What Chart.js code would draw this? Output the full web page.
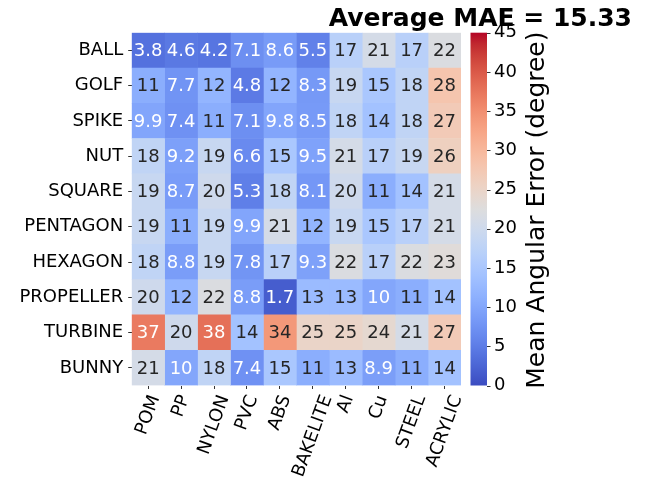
<!DOCTYPE html>
<html><head><meta charset="utf-8">
<script src="https://cdn.jsdelivr.net/npm/chart.js@4/dist/chart.umd.min.js"></script>
<style>html,body{margin:0;padding:0;background:#fff}</style>
</head><body>
<canvas id="c" width="650" height="487"></canvas>
<script>
// ---- data ----
const shapes = ['BALL','GOLF','SPIKE','NUT','SQUARE','PENTAGON','HEXAGON','PROPELLER','TURBINE','BUNNY'];
const materials = ['POM','PP','NYLON','PVC','ABS','BAKELITE','Al','Cu','STEEL','ACRYLIC'];
const ball      = [3.8, 4.6, 4.2, 7.1, 8.6, 5.5, 17, 21, 17, 22];
const golf      = [11, 7.7, 12, 4.8, 12, 8.3, 19, 15, 18, 28];
const spike     = [9.9, 7.4, 11, 7.1, 9.8, 8.5, 18, 14, 18, 27];
const nut       = [18, 9.2, 19, 6.6, 15, 9.5, 21, 17, 19, 26];
const square    = [19, 8.7, 20, 5.3, 18, 8.1, 20, 11, 14, 21];
const pentagon  = [19, 11, 19, 9.9, 21, 12, 19, 15, 17, 21];
const hexagon   = [18, 8.8, 19, 7.8, 17, 9.3, 22, 17, 22, 23];
const propeller = [20, 12, 22, 8.8, 1.7, 13, 13, 10, 11, 14];
const turbine   = [37, 20, 38, 14, 34, 25, 25, 24, 21, 27];
const bunny     = [21, 10, 18, 7.4, 15, 11, 13, 8.9, 11, 14];
const maeRows = [ball, golf, spike, nut, square, pentagon, hexagon, propeller, turbine, bunny];
const colorbarTicks = [0, 5, 10, 15, 20, 25, 30, 35, 40, 45];
const titleText = 'Average MAE = 15.33';
const colorbarLabel = 'Mean Angular Error (degree)';
const vmin = 0, vmax = 45;

// ---- coolwarm colormap ----
const COOLWARM = [[59,76,192],[68,90,204],[77,104,215],[87,117,225],[98,130,234],[108,142,241],[119,154,247],[130,165,251],[141,176,254],[152,185,255],[163,194,255],[174,201,253],[184,208,249],[194,213,244],[204,217,238],[213,219,230],[221,221,221],[229,216,209],[236,211,197],[241,204,185],[245,196,173],[247,187,160],[247,177,148],[247,166,135],[244,154,123],[241,141,111],[236,127,99],[229,112,88],[222,96,77],[213,80,66],[203,62,56],[192,40,47],[180,4,38]];
function cmap(v){
  let t = (v - vmin) / (vmax - vmin); t = Math.max(0, Math.min(1, t));
  const p = t * (COOLWARM.length - 1); const i = Math.min(Math.floor(p), COOLWARM.length - 2); const f = p - i;
  const a = COOLWARM[i], b = COOLWARM[i+1];
  return [0,1,2].map(k => a[k] + (b[k]-a[k]) * f);
}
const rgbStr = c => `rgb(${c.map(x=>Math.round(x)).join(',')})`;
function textColor(c){
  const lin = c.map(x => { x /= 255; return x <= 0.03928 ? x/12.92 : Math.pow((x+0.055)/1.055, 2.4); });
  const lum = 0.2126*lin[0] + 0.7152*lin[1] + 0.0722*lin[2];
  return lum > 0.408 ? '#262626' : '#ffffff';
}

const FONT = 'DejaVu Sans';
const datasets = materials.map((m, j) => ({
  label: m,
  data: shapes.map(() => [j, j + 1]),
  backgroundColor: shapes.map((s, i) => rgbStr(cmap(maeRows[i][j]))),
  borderWidth: 0,
  barPercentage: 1, categoryPercentage: 1, grouped: false
}));

const heatPlugin = {
  id: 'heat',
  afterDatasetsDraw(chart){
    const ctx = chart.ctx, xs = chart.scales.x, ys = chart.scales.y;
    ctx.save();
    ctx.font = `18px "${FONT}"`; ctx.textAlign = 'center'; ctx.textBaseline = 'middle';
    shapes.forEach((s, i) => materials.forEach((m, j) => {
      const v = maeRows[i][j];
      ctx.fillStyle = textColor(cmap(v));
      ctx.fillText(String(v), xs.getPixelForValue(j + 0.5), ys.getPixelForValue(i) + 1);
    }));
    ctx.restore();
  },
  afterDraw(chart){
    const ctx = chart.ctx, ca = chart.chartArea, xs = chart.scales.x, cb = chart.scales.y2;
    ctx.save();
    // colorbar
    const x0 = ca.right + 9.5, x1 = ca.right + 26;
    const yb = cb.getPixelForValue(vmin), yt = cb.getPixelForValue(vmax);
    const g = ctx.createLinearGradient(0, yb, 0, yt);
    COOLWARM.forEach((c, k) => g.addColorStop(k / (COOLWARM.length - 1), rgbStr(c)));
    ctx.fillStyle = g; ctx.fillRect(x0, yt, x1 - x0, yb - yt);
    ctx.strokeStyle = '#000'; ctx.lineWidth = 0.8;
    colorbarTicks.forEach(t => {
      const y = Math.round(cb.getPixelForValue(t)) + 0.5;
      ctx.beginPath(); ctx.moveTo(x1, y); ctx.lineTo(x1 + 3.5, y); ctx.stroke();
    });
    // colorbar label
    ctx.fillStyle = '#000'; ctx.font = `25px "${FONT}"`;
    ctx.textAlign = 'center'; ctx.textBaseline = 'middle';
    ctx.save(); ctx.translate(ca.right + 76, (yt + yb) / 2 + 1); ctx.rotate(-Math.PI / 2);
    ctx.fillText(colorbarLabel, 0, 0); ctx.restore();
    // x tick labels, rotated 70 deg, centered like matplotlib
    ctx.font = `18px "${FONT}"`;
    const th = 70 * Math.PI / 180, h = 18 * 1.16;
    materials.forEach((m, j) => {
      const x = xs.getPixelForValue(j + 0.5);
      const w = ctx.measureText(m).width;
      const H = w * Math.sin(th) + h * Math.cos(th);
      const y0 = ca.bottom + 7;
      ctx.save(); ctx.translate(x, y0 + H / 2); ctx.rotate(-th);
      ctx.fillText(m, 0, 0); ctx.restore();
    });
    ctx.restore();
  }
};

const tickGrid = { display: true, drawOnChartArea: false, drawTicks: true, tickLength: 3.5, color: '#000', lineWidth: 0.8, offset: false };
const noPad = s => { s.paddingTop = 0; s.paddingBottom = 0; };

new Chart(document.getElementById('c'), {
  type: 'bar',
  data: { labels: shapes, datasets },
  options: {
    indexAxis: 'y', responsive: false, animation: false,
    layout: { padding: { left: 0, right: 18, top: 0, bottom: 0 } },
    plugins: {
      legend: { display: false }, tooltip: { enabled: false },
      title: { display: true, text: titleText, align: 'end', color: '#000',
               font: { family: FONT, size: 25, weight: 'bold', lineHeight: 1.2 }, padding: { top: 4.5, bottom: -1.8 } }
    },
    scales: {
      x: { type: 'linear', position: 'bottom', min: 0, max: 10, offset: false,
           afterBuildTicks: s => { s.ticks = materials.map((m, j) => ({ value: j + 0.5 })); },
           ticks: { autoSkip: false, maxRotation: 0, callback: () => '' },
           grid: tickGrid, border: { display: false },
           afterFit: s => { s.height = 101.5; s.paddingLeft = 0; s.paddingRight = 0; } },
      y: { type: 'category', position: 'left', offset: true,
           ticks: { font: { family: FONT, size: 18 }, color: '#000', padding: 5, autoSkip: false },
           grid: tickGrid, border: { display: false },
           afterFit: s => { s.width = 131.7; noPad(s); } },
      y2: { type: 'linear', position: 'right', min: vmin, max: vmax, offset: false,
            afterBuildTicks: s => { s.ticks = colorbarTicks.map(v => ({ value: v })); },
            ticks: { font: { family: FONT, size: 18 }, color: '#000', padding: 33 },
            grid: { display: false, drawTicks: false, offset: false }, border: { display: false },
            afterFit: s => { s.width = 171; noPad(s); } }
    }
  },
  plugins: [heatPlugin]
});
</script>
</body></html>
